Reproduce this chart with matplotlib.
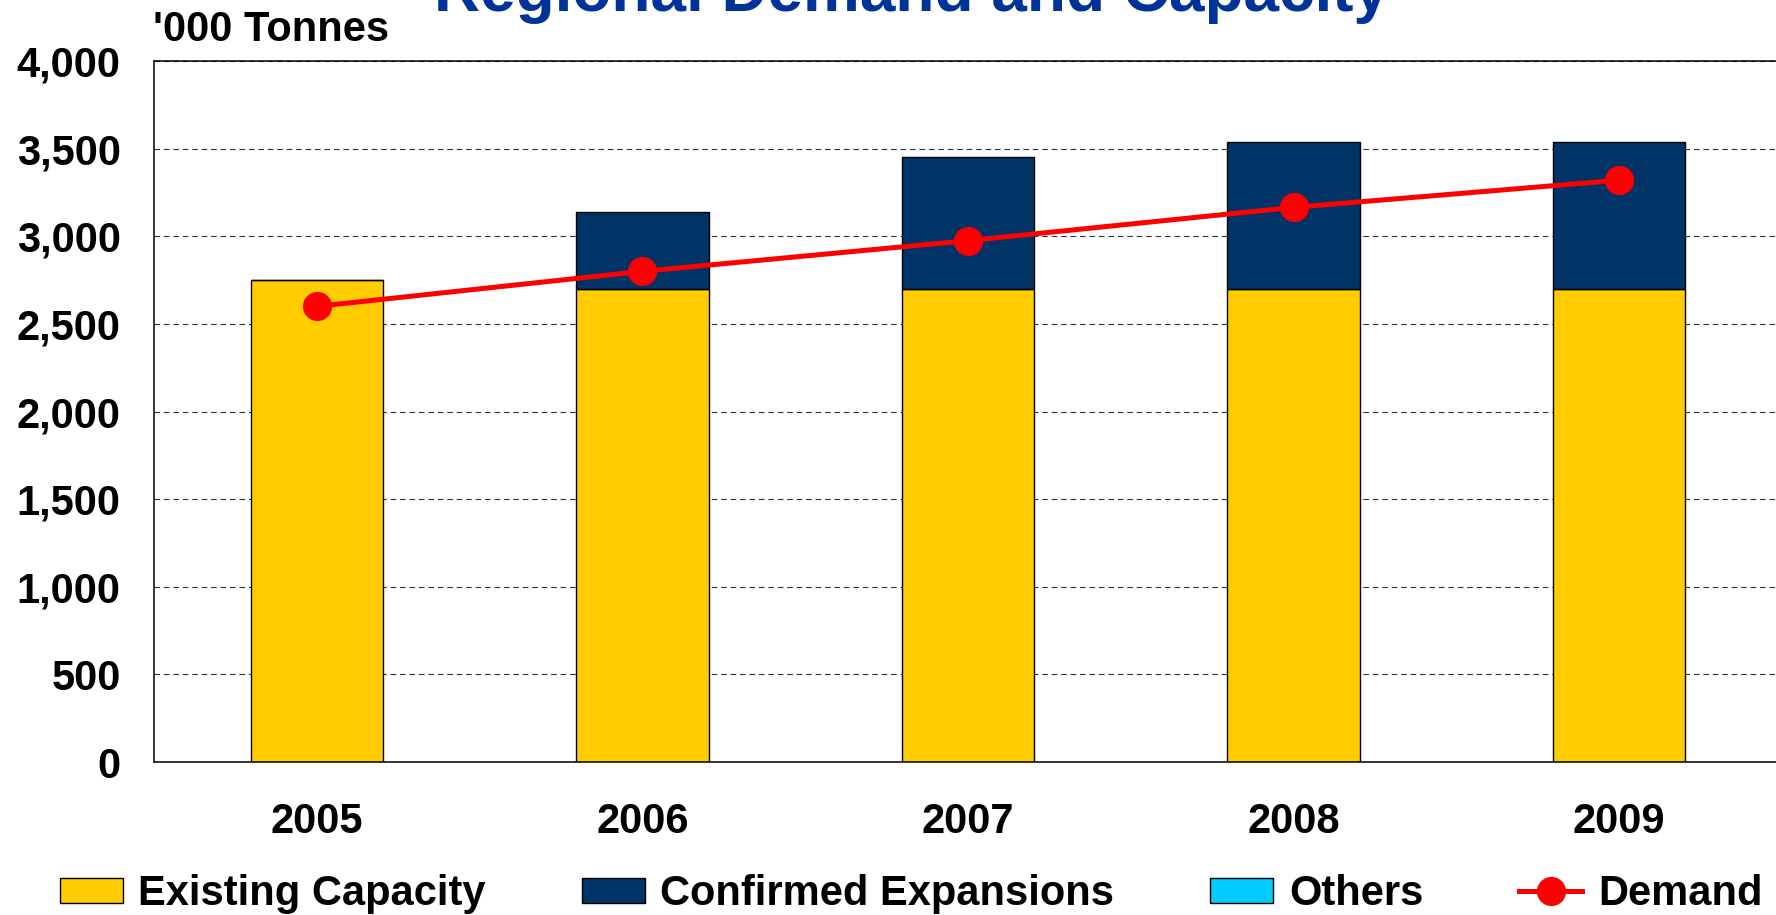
import numpy as np
import matplotlib
matplotlib.use('Agg')
import matplotlib.pyplot as plt

plt.rcParams['font.family'] = ['Liberation Sans', 'DejaVu Sans']
plt.rcParams['font.weight'] = 'bold'

years = ['2005', '2006', '2007', '2008', '2009']
existing = [2750, 2700, 2700, 2700, 2700]
confirmed = [0, 440, 750, 840, 840]
others = [0, 0, 0, 0, 0]
demand = [2600, 2800, 2975, 3165, 3320]
yticks = [0, 500, 1000, 1500, 2000, 2500, 3000, 3500, 4000]

fig = plt.figure(figsize=(17.76, 9.15), dpi=100)
ax = fig.add_axes([0.0867, 0.1672, 0.9167, 0.7661])

x = np.arange(len(years))
w = 0.407
bottom2 = np.array(existing) + np.array(confirmed)

b1 = ax.bar(x, existing, w, color='#FFCC00', edgecolor='black', linewidth=1, label='Existing Capacity', zorder=2)
b2 = ax.bar(x, confirmed, w, bottom=existing, color='#003366', edgecolor='black', linewidth=1,
            label='Confirmed Expansions', zorder=2)
b3 = ax.bar(x, others, w, bottom=bottom2, color='#00CCFF', edgecolor='black', linewidth=0,
            label='Others', zorder=2)
ln, = ax.plot(x, demand, color='#FF0000', lw=3.6, marker='o', markersize=20, label='Demand', zorder=3)

ax.set_xlim(-0.5, 4.5)
ax.set_ylim(0, 4000)
ax.set_yticks(yticks)
ax.set_yticklabels(['{:,}'.format(v) for v in yticks])
ax.set_xticks(x)
ax.set_xticklabels(years)
ax.tick_params(axis='both', length=0, labelsize=30)
ax.tick_params(axis='x', pad=29)
ax.tick_params(axis='y', pad=24)
for lab in ax.get_xticklabels() + ax.get_yticklabels():
    lab.set_fontweight('bold')

# dashed grid, only horizontal
ax.yaxis.grid(True, color='#333333', linestyle=(0, (5, 3.5)), linewidth=0.8, zorder=1)
ax.set_axisbelow(True)
for s in ax.spines.values():
    s.set_linewidth(1.1)
    s.set_color('black')

fig.text(0.0861, 0.955, "'000 Tonnes", fontsize=30, fontweight='bold', ha='left', va='baseline')
fig.text(0.513, 0.988, 'Regional Demand and Capacity', fontsize=46, fontweight='bold',
         color='#003399', ha='center', va='baseline')

leg = fig.legend(handles=[b1, b2, b3, ln], loc='center', bbox_to_anchor=(0.513, 0.023), ncol=4,
                 frameon=False, fontsize=30, handlelength=1.51, handleheight=0.55,
                 handletextpad=0.38, columnspacing=2.3, borderaxespad=0, borderpad=0)
leg.legend_handles[2].set_edgecolor('black')
leg.legend_handles[2].set_linewidth(1)
for t in leg.get_texts():
    t.set_fontweight('bold')

fig.savefig('out.png', dpi=100)
